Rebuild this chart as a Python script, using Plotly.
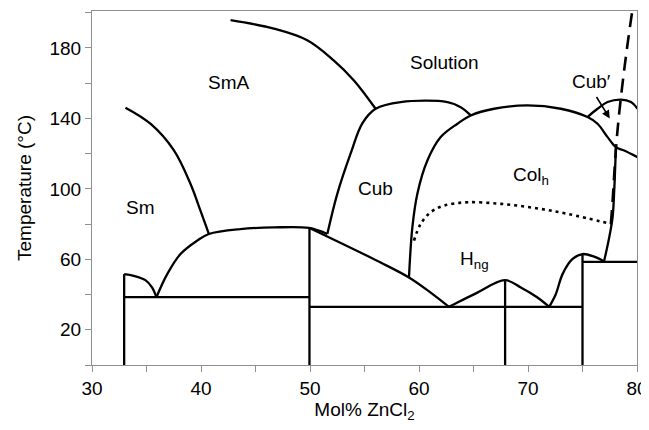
import plotly.graph_objects as go

# ---------------- data (mol% ZnCl2, temperature degC) ----------------
sm_sma_x = [33.07, 35.36, 37.5, 39.04, 39.95, 40.72]
sm_sma_y = [146.1, 137.0, 122.0, 102.8, 87.6, 74.4]

sma_sol_x = [42.71, 46.69, 49.75, 52.17, 54.03, 56.02]
sma_sol_y = [195.8, 191.0, 184.4, 173.0, 161.6, 145.5]

cub_x = [51.59, 52.51, 53.73, 54.8, 56.02, 58.32, 62.61, 63.83, 64.75]
cub_y = [74.4, 97.3, 120.1, 137.2, 145.5, 149.3, 149.3, 146.4, 141.7]

colh_x = [59.08, 59.39, 59.85, 60.77, 61.99, 63.53, 64.75, 66.89, 69.95, 73.01,
          75.46, 76.38, 77.3, 78.06, 78.82, 80.05]
colh_y = [49.7, 78.1, 97.3, 116.1, 129.4, 137.0, 141.7, 145.5, 147.4, 145.5,
          140.8, 137.0, 129.4, 123.7, 121.8, 118.0]

cubp_x = [75.46, 76.38, 77.3, 78.53, 79.45, 80.05]
cubp_y = [140.8, 145.5, 149.3, 150.7, 149.3, 145.5]

colh_right_x = [76.99, 77.45, 77.76, 77.91, 78.06]
colh_right_y = [59.2, 72.4, 83.8, 99.0, 123.0]

small_x = [32.95, 33.83, 34.9, 35.52, 35.91]
small_y = [51.6, 50.65, 48.2, 44.0, 38.5]

dome_x = [35.91, 36.9, 38.12, 39.65, 40.72, 43.62, 46.69, 49.9, 51.59]
dome_y = [38.5, 51.6, 63.0, 70.6, 74.4, 77.2, 78.1, 77.8, 74.4]

slant_x = [49.95, 56.48, 59.08, 61.07, 62.75]
slant_y = [77.8, 58.2, 49.7, 41.1, 33.0]

hump1_x = [62.75, 63.53, 65.36, 67.87, 69.34, 70.87, 71.94]
hump1_y = [33.0, 35.5, 41.1, 48.2, 44.0, 38.3, 33.0]

hump2_x = [71.94, 72.55, 73.17, 74.09, 75.0, 76.07, 76.99]
hump2_y = [33.0, 40.2, 51.6, 60.2, 63.0, 61.5, 58.8]

dotted_x = [59.54, 60.15, 61.07, 62.3, 64.45, 67.5, 70.56, 73.63, 77.6]
dotted_y = [70.6, 80.1, 86.7, 90.5, 92.4, 91.5, 89.2, 85.8, 80.1]

dashed_x = [77.6, 77.76, 78.06, 78.4, 79.0, 79.54]
dashed_y = [80.0, 93.0, 122.0, 145.0, 176.0, 200.0]

# horizontal tie lines: (x0, x1, T)
ties_x0 = [32.95, 49.95, 75.0]
ties_x1 = [49.95, 75.0, 80.0]
ties_t = [38.5, 33.0, 58.6]

# vertical compound lines: (x, top T)
vert_x = [32.95, 49.95, 67.9, 75.0]
vert_top = [51.6, 77.8, 48.2, 63.0]

labels = ["Solution", "SmA", "Sm", "Cub", "Col<sub>h</sub>", "H<sub>ng</sub>", "Cub′"]
labels_x = [62.3, 42.6, 34.45, 56.0, 70.3, 65.1, 75.8]
labels_y = [172.0, 160.5, 89.5, 100.0, 107.5, 59.5, 160.7]

arrow_tail = (76.2, 153.0)
arrow_head = (77.5, 140.0)

FONT = "Liberation Sans, Arial, sans-serif"
LW = 2.3
GRAY = "#8f8f8f"

fig = go.Figure()

def add_line(x, y, shape="spline", dash="solid", width=LW):
    fig.add_trace(go.Scatter(x=x, y=y, mode="lines",
                             line=dict(color="black", width=width, shape=shape, dash=dash),
                             hoverinfo="skip", showlegend=False))

for xs, ys in [(sm_sma_x, sm_sma_y), (sma_sol_x, sma_sol_y), (cub_x, cub_y),
               (colh_x, colh_y), (cubp_x, cubp_y), (colh_right_x, colh_right_y),
               (small_x, small_y), (dome_x, dome_y), (slant_x, slant_y),
               (hump1_x, hump1_y), (hump2_x, hump2_y)]:
    add_line(xs, ys)

add_line(dotted_x, dotted_y, dash="3px,4px", width=2.6)
add_line(dashed_x, dashed_y, dash="14px,8px", width=2.6)

for x0, x1, t in zip(ties_x0, ties_x1, ties_t):
    add_line([x0, x1], [t, t], shape="linear")
for xv, top in zip(vert_x, vert_top):
    add_line([xv, xv], [0, top], shape="linear")

for txt, lx, ly in zip(labels, labels_x, labels_y):
    fig.add_annotation(x=lx, y=ly, text=txt, showarrow=False,
                       font=dict(family=FONT, size=19, color="black"))

fig.add_annotation(x=arrow_head[0], y=arrow_head[1], ax=arrow_tail[0], ay=arrow_tail[1],
                   axref="x", ayref="y", xref="x", yref="y", text="",
                   showarrow=True, arrowhead=2, arrowsize=1, arrowwidth=1.6,
                   arrowcolor="black")

axis_common = dict(showgrid=False, zeroline=False, showline=True, mirror=True,
                   linecolor=GRAY, linewidth=1.2, ticks="outside", automargin=False,
                   tickcolor=GRAY, ticklen=6, tickwidth=1.2,
                   tickfont=dict(family=FONT, size=19, color="black"))

fig.update_xaxes(range=[30, 80], dtick=10, tick0=30,
                 minor=dict(dtick=5, ticks="outside", ticklen=6, tickcolor=GRAY),
                 title=dict(text="Mol% ZnCl<sub>2</sub>", font=dict(family=FONT, size=19, color="black"),
                            standoff=2),
                 **axis_common)
fig.update_yaxes(range=[0, 201], dtick=40, tick0=20,
                 minor=dict(dtick=20, tick0=0, ticks="outside", ticklen=6, tickcolor=GRAY),
                 title=dict(text="Temperature (°C)", font=dict(family=FONT, size=19, color="black"),
                            standoff=12),
                 **axis_common)

# page body adds an 8px margin; size/margins chosen so the plot area lands where the reference has it
fig.update_layout(width=641, height=422, margin=dict(l=84, r=12, t=3, b=65),
                  plot_bgcolor="white", paper_bgcolor="white")

fig.write_html("out.html")
